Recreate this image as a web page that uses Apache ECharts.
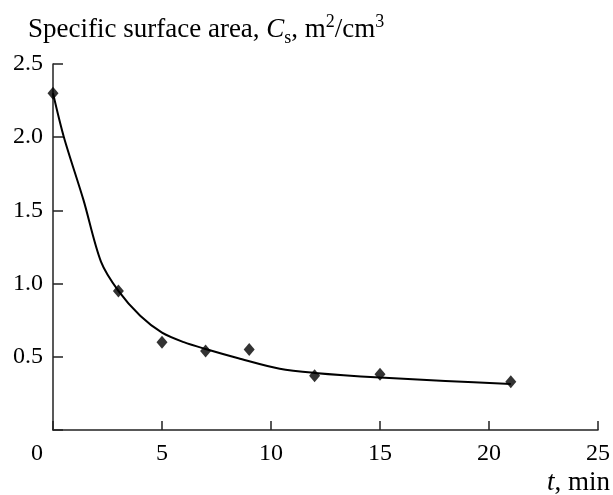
<!DOCTYPE html>
<html>
<head>
<meta charset="utf-8">
<script src="https://cdn.jsdelivr.net/npm/echarts@6/dist/echarts.min.js"></script>
<style>html,body{margin:0;padding:0;background:#fff}#c{width:613px;height:495px}</style>
</head>
<body>
<div id="c"></div>
<script>
// measured points
var timeMin = [0, 3, 5, 7, 9, 12, 15, 21];
var surfaceArea = [2.3, 0.95, 0.6, 0.54, 0.55, 0.37, 0.38, 0.33];
// fitted curve
var fitTime = [0, 0.5, 1.4, 2.2, 3, 4, 5, 6, 7, 8.5, 10.4, 12, 15, 18, 21];
var fitArea = [2.3, 2.0, 1.57, 1.15, 0.95, 0.78, 0.665, 0.6, 0.553, 0.49, 0.418, 0.39, 0.358, 0.335, 0.315];
var xTicks = [0, 5, 10, 15, 20, 25];
var yTicks = [0.5, 1.0, 1.5, 2.0, 2.5];

var serif = 'Liberation Serif';
var ink = '#000';
var chart = echarts.init(document.getElementById('c'));
chart.setOption({
  animation: false,
  backgroundColor: '#fff',
  grid: {left: 53, right: 14.5, top: 64, bottom: 65},
  title: {
    left: 28, top: 16, padding: 0,
    text: 'Specific surface area, {i|C}{sub|s}, m{sup|2}/cm{sup|3}',
    textStyle: {
      fontFamily: serif, fontSize: 27, fontWeight: 'normal', color: ink,
      rich: {
        i: {fontFamily: serif, fontSize: 27, fontStyle: 'italic', color: ink},
        sub: {fontFamily: serif, fontSize: 18, color: ink, verticalAlign: 'bottom', padding: [0, 0, -4, 0]},
        sup: {fontFamily: serif, fontSize: 18, color: ink, verticalAlign: 'top', padding: [-3, 0, 0, 0]}
      }
    }
  },
  graphic: [{
    type: 'text', right: 3, top: 469,
    style: {
      text: '{i|t}, min',
      font: '27px "Liberation Serif"', fill: ink,
      rich: {i: {fontFamily: serif, fontSize: 27, fontStyle: 'italic', fill: ink}}
    }
  }],
  xAxis: {
    type: 'value', min: 0, max: 25, interval: 5,
    axisLine: {show: true, lineStyle: {color: '#222', width: 1.5}},
    axisTick: {show: true, inside: true, length: 9, lineStyle: {color: '#222', width: 1.5}},
    splitLine: {show: false},
    axisLabel: {
      fontFamily: serif, fontSize: 24, color: ink, margin: 12,
      formatter: function (v) { return v === 0 ? '{z|0}' : String(v); },
      rich: {z: {fontFamily: serif, fontSize: 24, color: ink, padding: [0, 32, 0, 0]}}
    }
  },
  yAxis: {
    type: 'value', min: 0, max: 2.5, interval: 0.5,
    axisLine: {show: true, lineStyle: {color: '#222', width: 1.5}},
    axisTick: {show: true, inside: true, length: 10, lineStyle: {color: '#222', width: 1.5}},
    splitLine: {show: false},
    axisLabel: {
      fontFamily: serif, fontSize: 24, color: ink, margin: 10,
      formatter: function (v) { return v === 0 ? '' : v.toFixed(1); }
    }
  },
  series: [{
    type: 'line', data: fitTime.map(function (t, i) { return [t, fitArea[i]]; }),
    smooth: 0.3, showSymbol: false, lineStyle: {color: ink, width: 2}, z: 2
  }, {
    type: 'scatter', data: timeMin.map(function (t, i) { return [t, surfaceArea[i]]; }),
    symbol: 'diamond', symbolSize: [11, 13], itemStyle: {color: ink}, z: 3
  }]
});
</script>
</body>
</html>
